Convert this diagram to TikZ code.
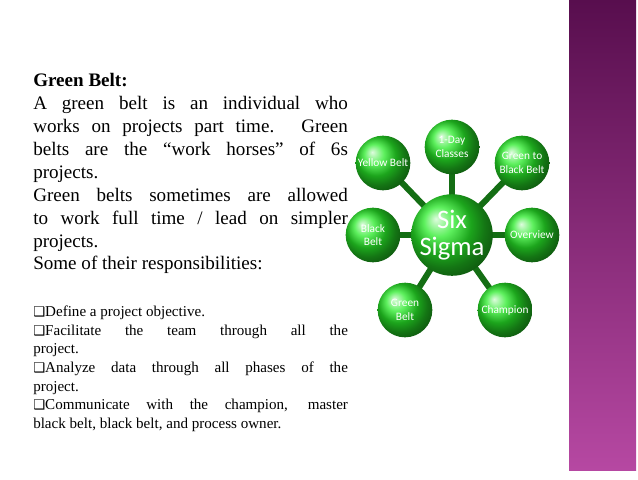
\documentclass[tikz,border=0pt]{standalone}
\usepackage{fontspec}
\setmainfont{Liberation Serif}
\newfontfamily\calib{Carlito}
\newfontfamily\symbs{DejaVu Sans}
\usetikzlibrary{positioning}
\definecolor{barTop}{RGB}{88,14,78}
\definecolor{barBot}{RGB}{182,72,162}
\definecolor{ballGreen}{RGB}{40,235,40}
\definecolor{linkGreen}{RGB}{20,110,20}
\newcommand{\chk}{{\symbs\fontsize{10}{10}\selectfont ❑}}

\begin{document}
\begin{tikzpicture}[x=0.75pt,y=-0.75pt]
\tikzset{
  sat/.style={circle, minimum size=41pt, inner sep=0pt, shading=ball, ball color=ballGreen,
    text=white, align=center, font=\calib\fontsize{8.5}{10}\selectfont},
  hub/.style={circle, minimum size=54pt, inner sep=0pt, shading=ball, ball color=ballGreen,
    text=white, align=center, font=\calib\fontsize{20}{20}\selectfont},
  link/.style={draw=linkGreen, line width=4.5pt}
}
\useasboundingbox (0,0) rectangle (638,479);
\fill[white] (0,0) rectangle (638,479);
\shade[top color=barTop, bottom color=barBot] (569,0) rectangle (636,470);
% text
\node[anchor=north west, inner sep=0pt, text width=236pt, align=justify,
  font=\fontsize{14.3}{17.2}\selectfont] (body) at (33,73)
  {\textbf{Green Belt:}\\
   A green belt is an individual who\linebreak works on projects part time. Green\linebreak belts are the ``work horses'' of 6s\linebreak projects.\\
   Green belts sometimes are allowed\linebreak to work full time / lead on simpler\linebreak projects.\\
   Some of their responsibilities:};
\node[anchor=north west, inner sep=0pt, text width=236pt, align=justify,
  font=\fontsize{11.3}{13.9}\selectfont] (list) at (33,306)
  {\chk Define a project objective.\\
   \chk Facilitate the team through all the\linebreak project.\\
   \chk Analyze data through all phases of the\linebreak project.\\
   \chk Communicate with the champion, master\linebreak black belt, black belt, and process owner.};
% diagram
\coordinate (c) at (452,235);
\foreach \p in {(383,163),(452,147),(522,163),(373,235),(532,235),(405,310),(505,310)}
  \draw[link] (c) -- \p;
\node[sat] (yellow) at (383,163) {Yellow Belt};
\node[sat] (oneday) at (452,147) {1-Day\\Classes};
\node[sat] (g2b) at (522,163) {Green to\\Black Belt};
\node[sat] (black) at (373,235) {Black\\Belt};
\node[sat] (over) at (532,235) {Overview};
\node[sat] (green) at (405,310) {Green\\Belt};
\node[sat] (champ) at (505,310) {Champion};
\node[hub] (six) at (c) {Six\\Sigma};
\end{tikzpicture}
\end{document}
